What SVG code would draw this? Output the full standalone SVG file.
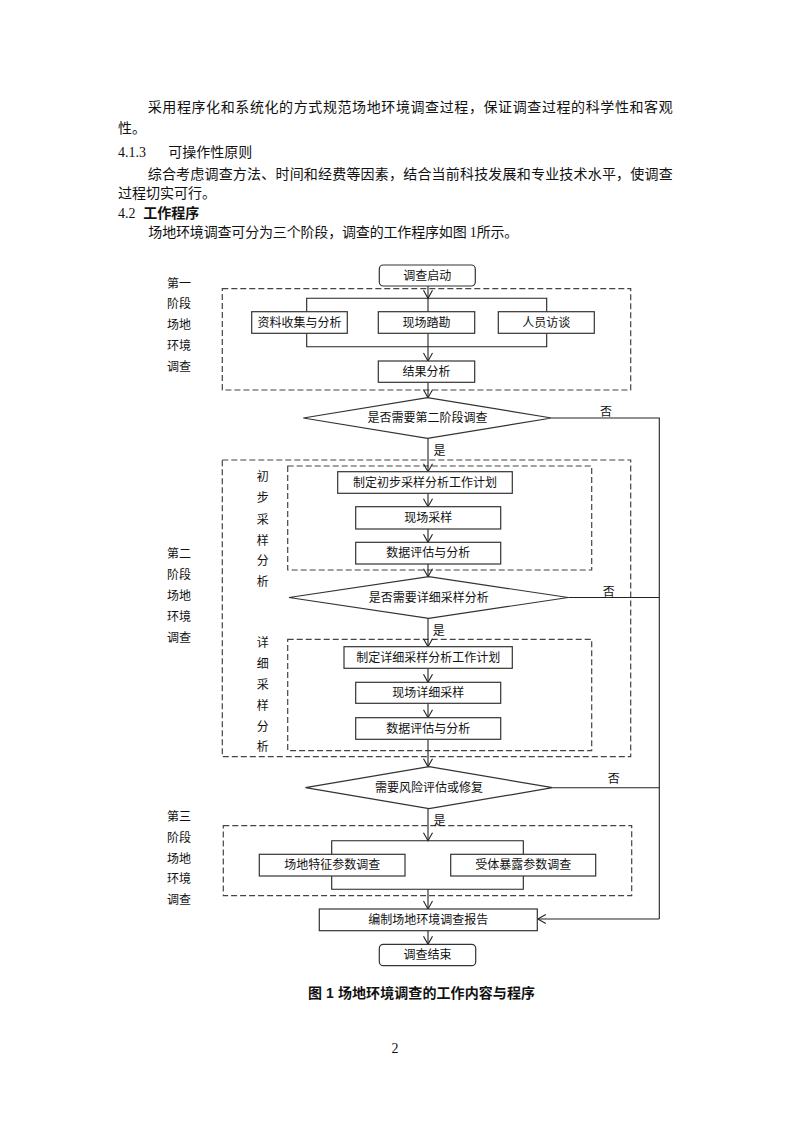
<svg xmlns="http://www.w3.org/2000/svg" width="793" height="1122" viewBox="0 0 793 1122">
<defs>
<style>
.body{font-family:"Liberation Serif","Noto Sans CJK SC",serif;font-size:14px;fill:#111}
.bold{font-family:"Liberation Sans","Noto Sans CJK SC",sans-serif;font-size:14px;font-weight:bold;fill:#111}
.lbl{font-family:"Liberation Serif","Noto Sans CJK SC",serif;font-size:12px;fill:#111;text-anchor:middle}
.box{fill:#fff;stroke:#333;stroke-width:1.2}
.dash{fill:none;stroke:#444;stroke-width:1.2;stroke-dasharray:6 3}
.ln{fill:none;stroke:#222;stroke-width:1.1}
.arr{fill:none;stroke:#222;stroke-width:1.1;marker-end:url(#ah)}
</style>
<marker id="ah" markerUnits="userSpaceOnUse" markerWidth="12" markerHeight="12" viewBox="-10 -6 12 12" refX="0" refY="0" orient="auto">
<path d="M-8,-4.5 L0,0 L-8,4.5" fill="none" stroke="#222" stroke-width="1.1"/>
</marker>
</defs>
<rect width="793" height="1122" fill="#fff"/>

<g id="bodytext">
<text class="body" x="147.7" y="112" textLength="525" lengthAdjust="spacing">采用程序化和系统化的方式规范场地环境调查过程，保证调查过程的科学性和客观</text>
<text class="body" x="118" y="133">性。</text>
<text class="body" x="118" y="157">4.1.3</text>
<text class="body" x="168.3" y="157">可操作性原则</text>
<text class="body" x="147.7" y="179" textLength="525" lengthAdjust="spacing">综合考虑调查方法、时间和经费等因素，结合当前科技发展和专业技术水平，使调查</text>
<text class="body" x="118" y="198">过程切实可行。</text>
<text class="body" x="118" y="217.5">4.2</text>
<text class="bold" x="143.3" y="217.5">工作程序</text>
<text class="body" x="148.3" y="237" textLength="370" lengthAdjust="spacing">场地环境调查可分为三个阶段，调查的工作程序如图 1所示。</text>
</g>

<g id="stage-frames">
<rect class="dash" x="222.3" y="288.7" width="408.4" height="101.3"/>
<rect class="dash" x="222.3" y="460" width="408.4" height="296.7"/>
<rect class="dash" x="287.7" y="466" width="304" height="104"/>
<rect class="dash" x="287.7" y="639.3" width="304" height="111.4"/>
<rect class="dash" x="223.3" y="825.7" width="408.4" height="70"/>
</g>

<g id="side-labels">
<text class="lbl" x="179" y="287.5">第一</text>
<text class="lbl" x="179" y="308">阶段</text>
<text class="lbl" x="179" y="328.5">场地</text>
<text class="lbl" x="179" y="349.5">环境</text>
<text class="lbl" x="179" y="370.5">调查</text>
<text class="lbl" x="179" y="557.5">第二</text>
<text class="lbl" x="179" y="578.5">阶段</text>
<text class="lbl" x="179" y="599.5">场地</text>
<text class="lbl" x="179" y="620.5">环境</text>
<text class="lbl" x="179" y="641.5">调查</text>
<text class="lbl" x="179" y="821">第三</text>
<text class="lbl" x="179" y="841.5">阶段</text>
<text class="lbl" x="179" y="862.5">场地</text>
<text class="lbl" x="179" y="882.5">环境</text>
<text class="lbl" x="179" y="903.5">调查</text>
<text class="lbl" x="262.7" y="481">初</text>
<text class="lbl" x="262.7" y="501.5">步</text>
<text class="lbl" x="262.7" y="523.5">采</text>
<text class="lbl" x="262.7" y="544.5">样</text>
<text class="lbl" x="262.7" y="564.5">分</text>
<text class="lbl" x="262.7" y="585.5">析</text>
<text class="lbl" x="262.7" y="647">详</text>
<text class="lbl" x="262.7" y="667.5">细</text>
<text class="lbl" x="262.7" y="688.5">采</text>
<text class="lbl" x="262.7" y="709.5">样</text>
<text class="lbl" x="262.7" y="730.5">分</text>
<text class="lbl" x="262.7" y="751">析</text>
</g>

<g id="connectors">
<line class="arr" x1="428" y1="286" x2="428" y2="298.3"/>
<polyline class="ln" points="306.7,311.7 306.7,298.3 546.7,298.3 546.7,311.7"/>
<line class="ln" x1="428" y1="298.3" x2="428" y2="311.7"/>
<polyline class="ln" points="306.7,333.3 306.7,346.7 546.7,346.7 546.7,333.3"/>
<line class="ln" x1="428" y1="333.3" x2="428" y2="346.7"/>
<line class="arr" x1="428" y1="346.7" x2="428" y2="361"/>
<line class="arr" x1="428" y1="382.3" x2="428" y2="397.7"/>
<line class="arr" x1="428" y1="438.3" x2="428" y2="471.7"/>
<line class="arr" x1="428" y1="493.3" x2="428" y2="506.7"/>
<line class="arr" x1="428" y1="529" x2="428" y2="542.3"/>
<line class="arr" x1="428" y1="564" x2="428" y2="576.7"/>
<line class="arr" x1="428" y1="618.3" x2="428" y2="646.7"/>
<line class="arr" x1="428" y1="668.3" x2="428" y2="682.3"/>
<line class="arr" x1="428" y1="703.3" x2="428" y2="717.7"/>
<line class="arr" x1="428" y1="739.3" x2="428" y2="766.7"/>
<line class="arr" x1="428" y1="808.3" x2="428" y2="840.7"/>
<polyline class="ln" points="331.7,854.3 331.7,840.7 523.3,840.7 523.3,854.3"/>
<polyline class="ln" points="331.7,876 331.7,889.3 523.3,889.3 523.3,876"/>
<line class="arr" x1="428" y1="889.3" x2="428" y2="909"/>
<line class="arr" x1="428" y1="930.7" x2="428" y2="944.3"/>
<polyline class="ln" points="551.7,418 659.3,418 659.3,919"/>
<line class="ln" x1="568.3" y1="597.5" x2="659.3" y2="597.5"/>
<line class="ln" x1="552.5" y1="787.7" x2="659.3" y2="787.7"/>
<line class="arr" x1="659.3" y1="919" x2="537.8" y2="919"/>
<text class="lbl" x="439.5" y="454.5">是</text>
<text class="lbl" x="438.7" y="634.5">是</text>
<text class="lbl" x="439.5" y="824.5">是</text>
<text class="lbl" x="606" y="416">否</text>
<text class="lbl" x="608.7" y="596">否</text>
<text class="lbl" x="613.7" y="782.5">否</text>
</g>

<g id="n-start"><rect class="box" x="379.3" y="265" width="96" height="21" rx="4"/><text class="lbl" x="427.3" y="279.5">调查启动</text></g>
<g id="n-collect"><rect class="box" x="251.7" y="311.7" width="95.6" height="21.6"/><text class="lbl" x="299.5" y="326.5">资料收集与分析</text></g>
<g id="n-site"><rect class="box" x="378.3" y="311.7" width="96.4" height="21.6"/><text class="lbl" x="426.5" y="326.5">现场踏勘</text></g>
<g id="n-interview"><rect class="box" x="498.3" y="311.7" width="96" height="21.6"/><text class="lbl" x="546.3" y="326.5">人员访谈</text></g>
<g id="n-result"><rect class="box" x="378.3" y="361" width="96.4" height="21.3"/><text class="lbl" x="426.5" y="375.7">结果分析</text></g>
<g id="d-stage2"><polygon class="box" points="303.3,418 427.5,397.7 551.7,418 427.5,438.3"/><text class="lbl" x="427.5" y="422">是否需要第二阶段调查</text></g>
<g id="n-plan1"><rect class="box" x="337.7" y="471.7" width="174.6" height="21.6"/><text class="lbl" x="425" y="486.5">制定初步采样分析工作计划</text></g>
<g id="n-sample1"><rect class="box" x="355.7" y="506.7" width="145" height="22.3"/><text class="lbl" x="428.2" y="521.8">现场采样</text></g>
<g id="n-eval1"><rect class="box" x="355.7" y="542.3" width="145" height="21.7"/><text class="lbl" x="428.2" y="557.2">数据评估与分析</text></g>
<g id="d-detail"><polygon class="box" points="289,597.5 428.7,576.7 568.3,597.5 428.7,618.3"/><text class="lbl" x="428.7" y="601.8">是否需要详细采样分析</text></g>
<g id="n-plan2"><rect class="box" x="344" y="646.7" width="168.3" height="21.6"/><text class="lbl" x="428.2" y="661.5">制定详细采样分析工作计划</text></g>
<g id="n-sample2"><rect class="box" x="355.7" y="682.3" width="145" height="21"/><text class="lbl" x="428.2" y="696.8">现场详细采样</text></g>
<g id="n-eval2"><rect class="box" x="355.7" y="717.7" width="145" height="21.6"/><text class="lbl" x="428.2" y="732.5">数据评估与分析</text></g>
<g id="d-risk"><polygon class="box" points="305.5,787.7 429,766.7 552.5,787.7 429,808.7"/><text class="lbl" x="429" y="792">需要风险评估或修复</text></g>
<g id="n-sitepar"><rect class="box" x="259.3" y="854.3" width="145.7" height="21.7"/><text class="lbl" x="332.2" y="869.2">场地特征参数调查</text></g>
<g id="n-recept"><rect class="box" x="450.7" y="854.3" width="145" height="21.7"/><text class="lbl" x="523.2" y="869.2">受体暴露参数调查</text></g>
<g id="n-report"><rect class="box" x="319.3" y="909" width="218" height="21.7"/><text class="lbl" x="428.3" y="923.9">编制场地环境调查报告</text></g>
<g id="n-end"><rect class="box" x="379.3" y="944.3" width="96.4" height="21.4" rx="4"/><text class="lbl" x="427.5" y="959">调查结束</text></g>

<g id="caption">
<text class="bold" x="308" y="997.5" textLength="227" lengthAdjust="spacing">图 1 场地环境调查的工作内容与程序</text>
</g>
<text class="body" x="395" y="1053" text-anchor="middle" font-size="12">2</text>
</svg>
